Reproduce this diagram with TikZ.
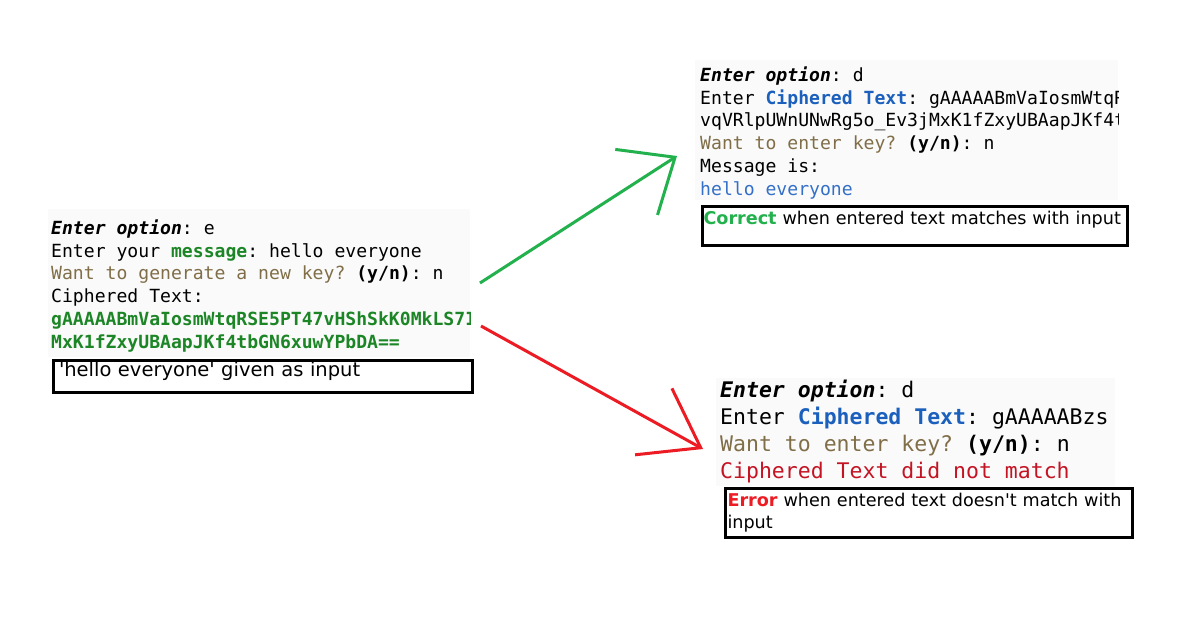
\documentclass[tikz,border=0pt]{standalone}
\usepackage{fontspec}
\setmainfont{DejaVu Sans}
\setmonofont{DejaVu Sans Mono}
\usetikzlibrary{arrows.meta,positioning}

\definecolor{msggreen}{RGB}{28,134,38}
\definecolor{askbrown}{RGB}{128,110,72}
\definecolor{cipherblue}{RGB}{28,96,190}
\definecolor{plainblue}{RGB}{52,112,200}
\definecolor{failred}{RGB}{196,20,36}
\definecolor{okgreen}{RGB}{34,177,76}
\definecolor{badred}{RGB}{237,28,36}
\definecolor{termgray}{RGB}{250,250,250}

\newcommand{\opt}{\textbf{\textit{Enter option}}}
\newcommand{\yn}{\textbf{(y/n)}}

\begin{document}
\begin{tikzpicture}[x=1pt,y=-1pt,
  termbg/.style={fill=termgray,inner sep=0pt,anchor=north west},
  termline/.style={anchor=base west,inner sep=0pt,font=\ttfamily\fontsize{18.1}{22}\selectfont},
  bigline/.style={anchor=base west,inner sep=0pt,font=\ttfamily\fontsize{21.5}{26}\selectfont},
  capbox/.style={draw,line width=3pt,anchor=north west,inner ysep=0pt,align=left},
  okarrow/.style={okgreen,line width=3pt,-{Straight Barb[length=46pt,width=78pt]}},
  badarrow/.style={badred,line width=3pt,-{Straight Barb[length=54pt,width=76pt]}}]
\useasboundingbox[fill=white] (0,0) rectangle (1191,632);

% terminal backgrounds
\node[termbg,minimum width=422pt,minimum height=148pt] (encbg) at (48,209) {};
\node[termbg,minimum width=423pt,minimum height=140pt] (okbg) at (695,60) {};
\node[termbg,minimum width=399pt,minimum height=108pt] (errbg) at (716,378) {};

% encrypt run
\begin{scope}
\clip (encbg.north west) rectangle (encbg.south east);
\node[termline] (enc1) at (51,234) {\opt: e};
\node[termline] (enc2) at (51,257) {Enter your \textcolor{msggreen}{\textbf{message}}: hello everyone};
\node[termline] (enc3) at (51,279.5) {\textcolor{askbrown}{Want to generate a new key?} \yn: n};
\node[termline] (enc4) at (51,302) {Ciphered Text:};
\node[termline,msggreen,font=\ttfamily\bfseries\fontsize{18.1}{22}\selectfont] (enc5) at (51,325) {gAAAAABmVaIosmWtqRSE5PT47vHShSkK0MkLS7IvqV};
\node[termline,msggreen,font=\ttfamily\bfseries\fontsize{18.1}{22}\selectfont] (enc6) at (51,348) {MxK1fZxyUBAapJKf4tbGN6xuwYPbDA==};
\end{scope}

% correct decrypt run
\begin{scope}
\clip (okbg.north west) rectangle (okbg.south east);
\node[termline] (ok1) at (700,81) {\opt: d};
\node[termline] (ok2) at (700,104) {Enter \textcolor{cipherblue}{\textbf{Ciphered Text}}: gAAAAABmVaIosmWtqRSE5P};
\node[termline] (ok3) at (700,126.5) {vqVRlpUWnUNwRg5o\_Ev3jMxK1fZxyUBAapJKf4tbGN};
\node[termline] (ok4) at (700,149) {\textcolor{askbrown}{Want to enter key?} \yn: n};
\node[termline] (ok5) at (700,172) {Message is:};
\node[termline,plainblue] (ok6) at (700,195) {hello everyone};
\end{scope}

% wrong decrypt run
\node[bigline] (err1) at (720,397) {\opt: d};
\node[bigline] (err2) at (720,424) {Enter \textcolor{cipherblue}{\textbf{Ciphered Text}}: gAAAAABzs};
\node[bigline] (err3) at (720,451) {\textcolor{askbrown}{Want to enter key?} \yn: n};
\node[bigline,failred] (err4) at (720,478) {Ciphered Text did not match};

% captions
\node[capbox,minimum width=419pt,minimum height=32pt,text width=407pt,inner xsep=6pt,
  text height=16.5pt,text depth=15.5pt,font=\fontsize{19.5}{22}\selectfont] (enccap) at (51.5,358.5)
  {\textquotesingle hello everyone\textquotesingle\ given as input};
\node[capbox,minimum width=425pt,minimum height=39pt,text width=422pt,inner xsep=1.5pt,
  text height=18.5pt,text depth=20.5pt,font=\fontsize{17.6}{22}\selectfont] (okcap) at (700.5,204.5)
  {\textcolor{okgreen}{\textbf{Correct}} when entered text matches with input};
\node[capbox,minimum width=407pt,minimum height=49pt,text width=402pt,inner xsep=2.5pt,
  font=\fontsize{17.6}{22.5}\selectfont] (errcap) at (723.5,486.5)
  {\textcolor{badred}{\textbf{Error}} when entered text doesn\textquotesingle t match with\\input};

% arrows
\coordinate (okfrom) at (480,283);
\coordinate (okto) at (677,156);
\coordinate (badfrom) at (481,326);
\coordinate (badto) at (703,449);
\draw[okarrow] (okfrom) -- (okto);
\draw[badarrow] (badfrom) -- (badto);
\end{tikzpicture}
\end{document}
